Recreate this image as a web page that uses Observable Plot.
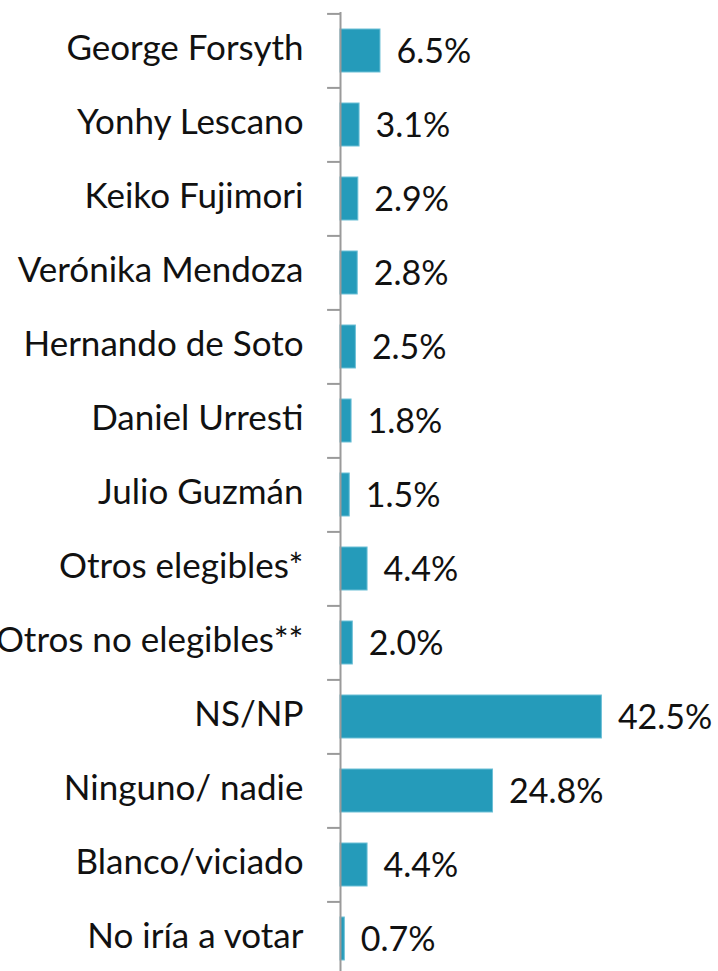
<!DOCTYPE html>
<html>
<head>
<meta charset="utf-8">
<script src="https://cdn.jsdelivr.net/npm/d3@7"></script>
<script src="https://cdn.jsdelivr.net/npm/@observablehq/plot@0.6"></script>
<style>
  html, body { margin: 0; padding: 0; background: #fff; }
  #chart svg { display: block; }
</style>
</head>
<body>
<div id="chart"></div>
<script>
const categories = [
  "George Forsyth", "Yonhy Lescano", "Keiko Fujimori", "Verónika Mendoza",
  "Hernando de Soto", "Daniel Urresti", "Julio Guzmán", "Otros elegibles*",
  "Otros no elegibles**", "NS/NP", "Ninguno/ nadie", "Blanco/viciado", "No iría a votar"
];
const values = [6.5, 3.1, 2.9, 2.8, 2.5, 1.8, 1.5, 4.4, 2.0, 42.5, 24.8, 4.4, 0.7];
const valueLabels = ["6.5%", "3.1%", "2.9%", "2.8%", "2.5%", "1.8%", "1.5%", "4.4%", "2.0%", "42.5%", "24.8%", "4.4%", "0.7%"];

const data = categories.map((c, i) => ({category: c, value: values[i], label: valueLabels[i]}));

const fontFamily = "Lato, 'Open Sans', sans-serif";

const chart = Plot.plot({
  width: 718,
  height: 971,
  marginLeft: 340,
  marginRight: 70.5,
  marginTop: 12,
  marginBottom: 0,
  style: {fontFamily, background: "#fff", overflow: "hidden"},
  x: {domain: [0, 50], axis: null},
  y: {domain: categories, range: [12, 977], paddingInner: 0.42, paddingOuter: 0.21, axis: null},
  marks: [
    Plot.barX(data, {y: "category", x: "value", fill: "#259bba", stroke: "#6cbfd6", strokeWidth: 1}),
    Plot.ruleX([0], {stroke: "#9a9a9a", strokeWidth: 2}),
    Plot.ruleY(categories, {y: d => d, x1: -2.1, x2: 0, dy: -37.1, stroke: "#9a9a9a", strokeWidth: 2}),
    Plot.text(data, {y: "category", x: 0, text: "category", textAnchor: "end", dx: -37, dy: -2, fontSize: 35, fill: "#111"}),
    Plot.text(data, {y: "category", x: "value", text: "label", textAnchor: "start", dx: 16, dy: 1, fontSize: 34, fill: "#111"})
  ]
});
document.getElementById("chart").appendChild(chart);
</script>
</body>
</html>
